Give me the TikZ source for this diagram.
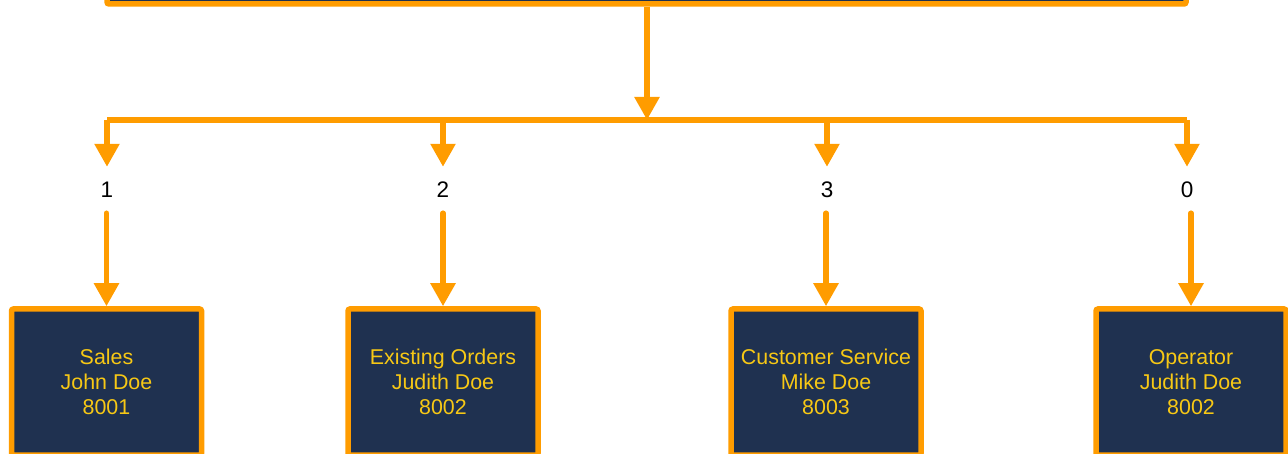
\documentclass[tikz,border=0pt]{standalone}
\usepackage{fontspec}
\setmainfont{Liberation Sans}
\usetikzlibrary{arrows.meta}
\definecolor{orng}{HTML}{FF9C00}
\definecolor{navy}{HTML}{1F3150}
\definecolor{gold}{HTML}{F7C815}
\tikzset{
  conn/.style={draw=orng, line width=5.5pt, -{Triangle[width=24pt,length=23pt]}},
  bus/.style={draw=orng, line width=5.5pt, rounded corners=2pt},
  unitbox/.style={draw=orng, fill=navy, line width=5.5pt, rounded corners=2pt,
    minimum width=190pt, minimum height=146pt, inner sep=0pt, text=gold,
    align=center, font=\fontsize{21.4}{25}\selectfont},
  choice/.style={minimum height=46pt, minimum width=30pt, inner sep=0pt,
    font=\fontsize{22.5}{25}\selectfont, text=black}
}
\begin{document}
\begin{tikzpicture}[x=1pt,y=-1pt]
\useasboundingbox (0,0) rectangle (1288,454);
\clip (0,0) rectangle (1288,454);
\node[unitbox, minimum width=1079pt, minimum height=80pt] (top) at (646.5,-36) {};
\coordinate (split) at (647,120);
\node[choice] (l1) at (107,190) {1};
\node[choice] (l2) at (443,190) {2};
\node[choice] (l3) at (827,190) {3};
\node[choice] (l0) at (1187,190) {0};
\node[unitbox] (b1) at (106.5,382) {Sales\\John Doe\\8001};
\node[unitbox] (b2) at (443,382) {Existing Orders\\Judith Doe\\8002};
\node[unitbox] (b3) at (826,382) {Customer Service\\Mike Doe\\8003};
\node[unitbox] (b0) at (1191,382) {Operator\\Judith Doe\\8002};
\draw[conn] (top.south -| split) -- (split);
\draw[bus] (l1.north |- split) -- (l0.north |- split);
\foreach \n in {l1,l2,l3,l0}{
  \draw[conn] (\n.north |- split) -- (\n.north);
}
\draw[conn, line cap=round] (l1.south -| b1.north) -- (b1.north);
\draw[conn, line cap=round] (l2.south -| b2.north) -- (b2.north);
\draw[conn, line cap=round] (l3.south -| b3.north) -- (b3.north);
\draw[conn, line cap=round] (l0.south -| b0.north) -- (b0.north);
\end{tikzpicture}
\end{document}
